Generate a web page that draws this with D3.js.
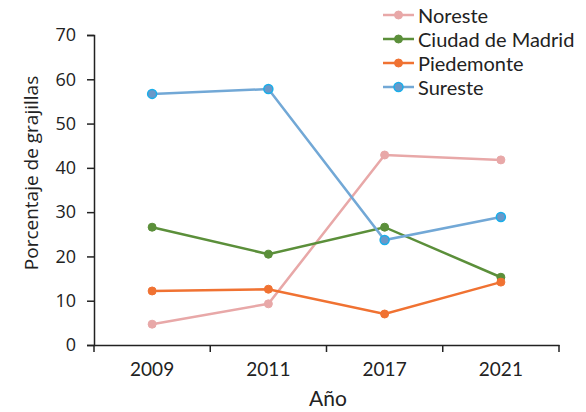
<!DOCTYPE html>
<html><head><meta charset="utf-8">
<script src="https://cdn.jsdelivr.net/npm/d3@7"></script>
<style>body{margin:0;background:#fff}</style>
</head><body>
<svg id="c" width="586" height="412"></svg>
<script>
const years = ["2009","2011","2017","2021"];
const noreste = [4.7, 9.3, 42.9, 41.8];
const ciudad = [26.6, 20.5, 26.6, 15.3];
const piedemonte = [12.2, 12.6, 7.0, 14.2];
const sureste = [56.7, 57.8, 23.7, 28.9];
const yTicks = [0,10,20,30,40,50,60,70];
const seriesNames = ["Noreste","Ciudad de Madrid","Piedemonte","Sureste"];

const series = [
  {name: seriesNames[0], values: noreste, line:"#E8A8A8", fill:"#E8A8A8", stroke:"#E8A8A8"},
  {name: seriesNames[1], values: ciudad, line:"#5B8F3A", fill:"#5B8F3A", stroke:"#5B8F3A"},
  {name: seriesNames[2], values: piedemonte, line:"#F07232", fill:"#F07232", stroke:"#F07232"},
  {name: seriesNames[3], values: sureste, line:"#72A8D6", fill:"#6A98C8", stroke:"#19AEEA"}
];

const svg = d3.select("#c");
const L=94, R=559, T=35, B=345;
const x = d3.scaleBand().domain(years).range([L,R]);
const y = d3.scaleLinear().domain([0,70]).range([B,T]);
const font = "Lato, 'Noto Sans', sans-serif";

// y axis
const ya = svg.append("g").attr("transform",`translate(${L},0)`)
  .call(d3.axisLeft(y).tickValues(yTicks).tickSize(7).tickPadding(11));
ya.selectAll("text").attr("font-family","'Open Sans', sans-serif").attr("font-size",18).attr("fill","#222");
ya.select(".domain").attr("stroke","#222").attr("stroke-width",1.5);
ya.selectAll(".tick line").attr("stroke","#222").attr("stroke-width",1.5);

// x axis
const xa = svg.append("g").attr("transform",`translate(0,${B})`)
  .call(d3.axisBottom(x).tickSize(0));
xa.select(".domain").attr("stroke","#222").attr("stroke-width",1.5);
xa.selectAll("text").attr("font-family",font).attr("font-size",19).attr("fill","#222")
  .attr("dy",null).attr("y",31);
const bounds = [L, ...years.map(d=>x(d)+x.bandwidth())];
xa.selectAll(".bt").data(bounds).enter().append("line")
  .attr("x1",d=>d).attr("x2",d=>d).attr("y1",0).attr("y2",7)
  .attr("stroke","#222").attr("stroke-width",1.5);

// titles
svg.append("text").attr("x",328).attr("y",406).attr("text-anchor","middle")
  .attr("font-family",font).attr("font-size",21).attr("fill","#222").text("Año");
svg.append("text").attr("transform","translate(38,173) rotate(-90)").attr("text-anchor","middle")
  .attr("font-family","'Open Sans', sans-serif").attr("font-size",19).attr("fill","#222").text("Porcentaje de grajillas");

// lines
const line = d3.line().x((d,i)=>x(years[i])+x.bandwidth()/2).y(d=>y(d));
series.forEach(s=>{
  svg.append("path").datum(s.values).attr("d",line).attr("fill","none")
    .attr("stroke",s.line).attr("stroke-width",2.5);
  svg.selectAll(null).data(s.values).enter().append("circle")
    .attr("cx",(d,i)=>x(years[i])+x.bandwidth()/2).attr("cy",d=>y(d))
    .attr("r", s.name==="Sureste"?4.5:4)
    .attr("fill",s.fill).attr("stroke",s.stroke).attr("stroke-width",s.name==="Sureste"?1.5:1);
});

// legend
series.forEach((s,i)=>{
  const ly = 15 + i*24;
  const g = svg.append("g");
  g.append("line").attr("x1",383).attr("x2",414).attr("y1",ly).attr("y2",ly)
    .attr("stroke",s.line).attr("stroke-width",2.5);
  g.append("circle").attr("cx",398.5).attr("cy",ly).attr("r",s.name==="Sureste"?4.5:4)
    .attr("fill",s.fill).attr("stroke",s.stroke).attr("stroke-width",s.name==="Sureste"?1.5:1);
  g.append("text").attr("x",418).attr("y",ly+7.5).attr("font-family",font)
    .attr("font-size",20).attr("fill","#222").text(s.name);
});
</script>
</body></html>
